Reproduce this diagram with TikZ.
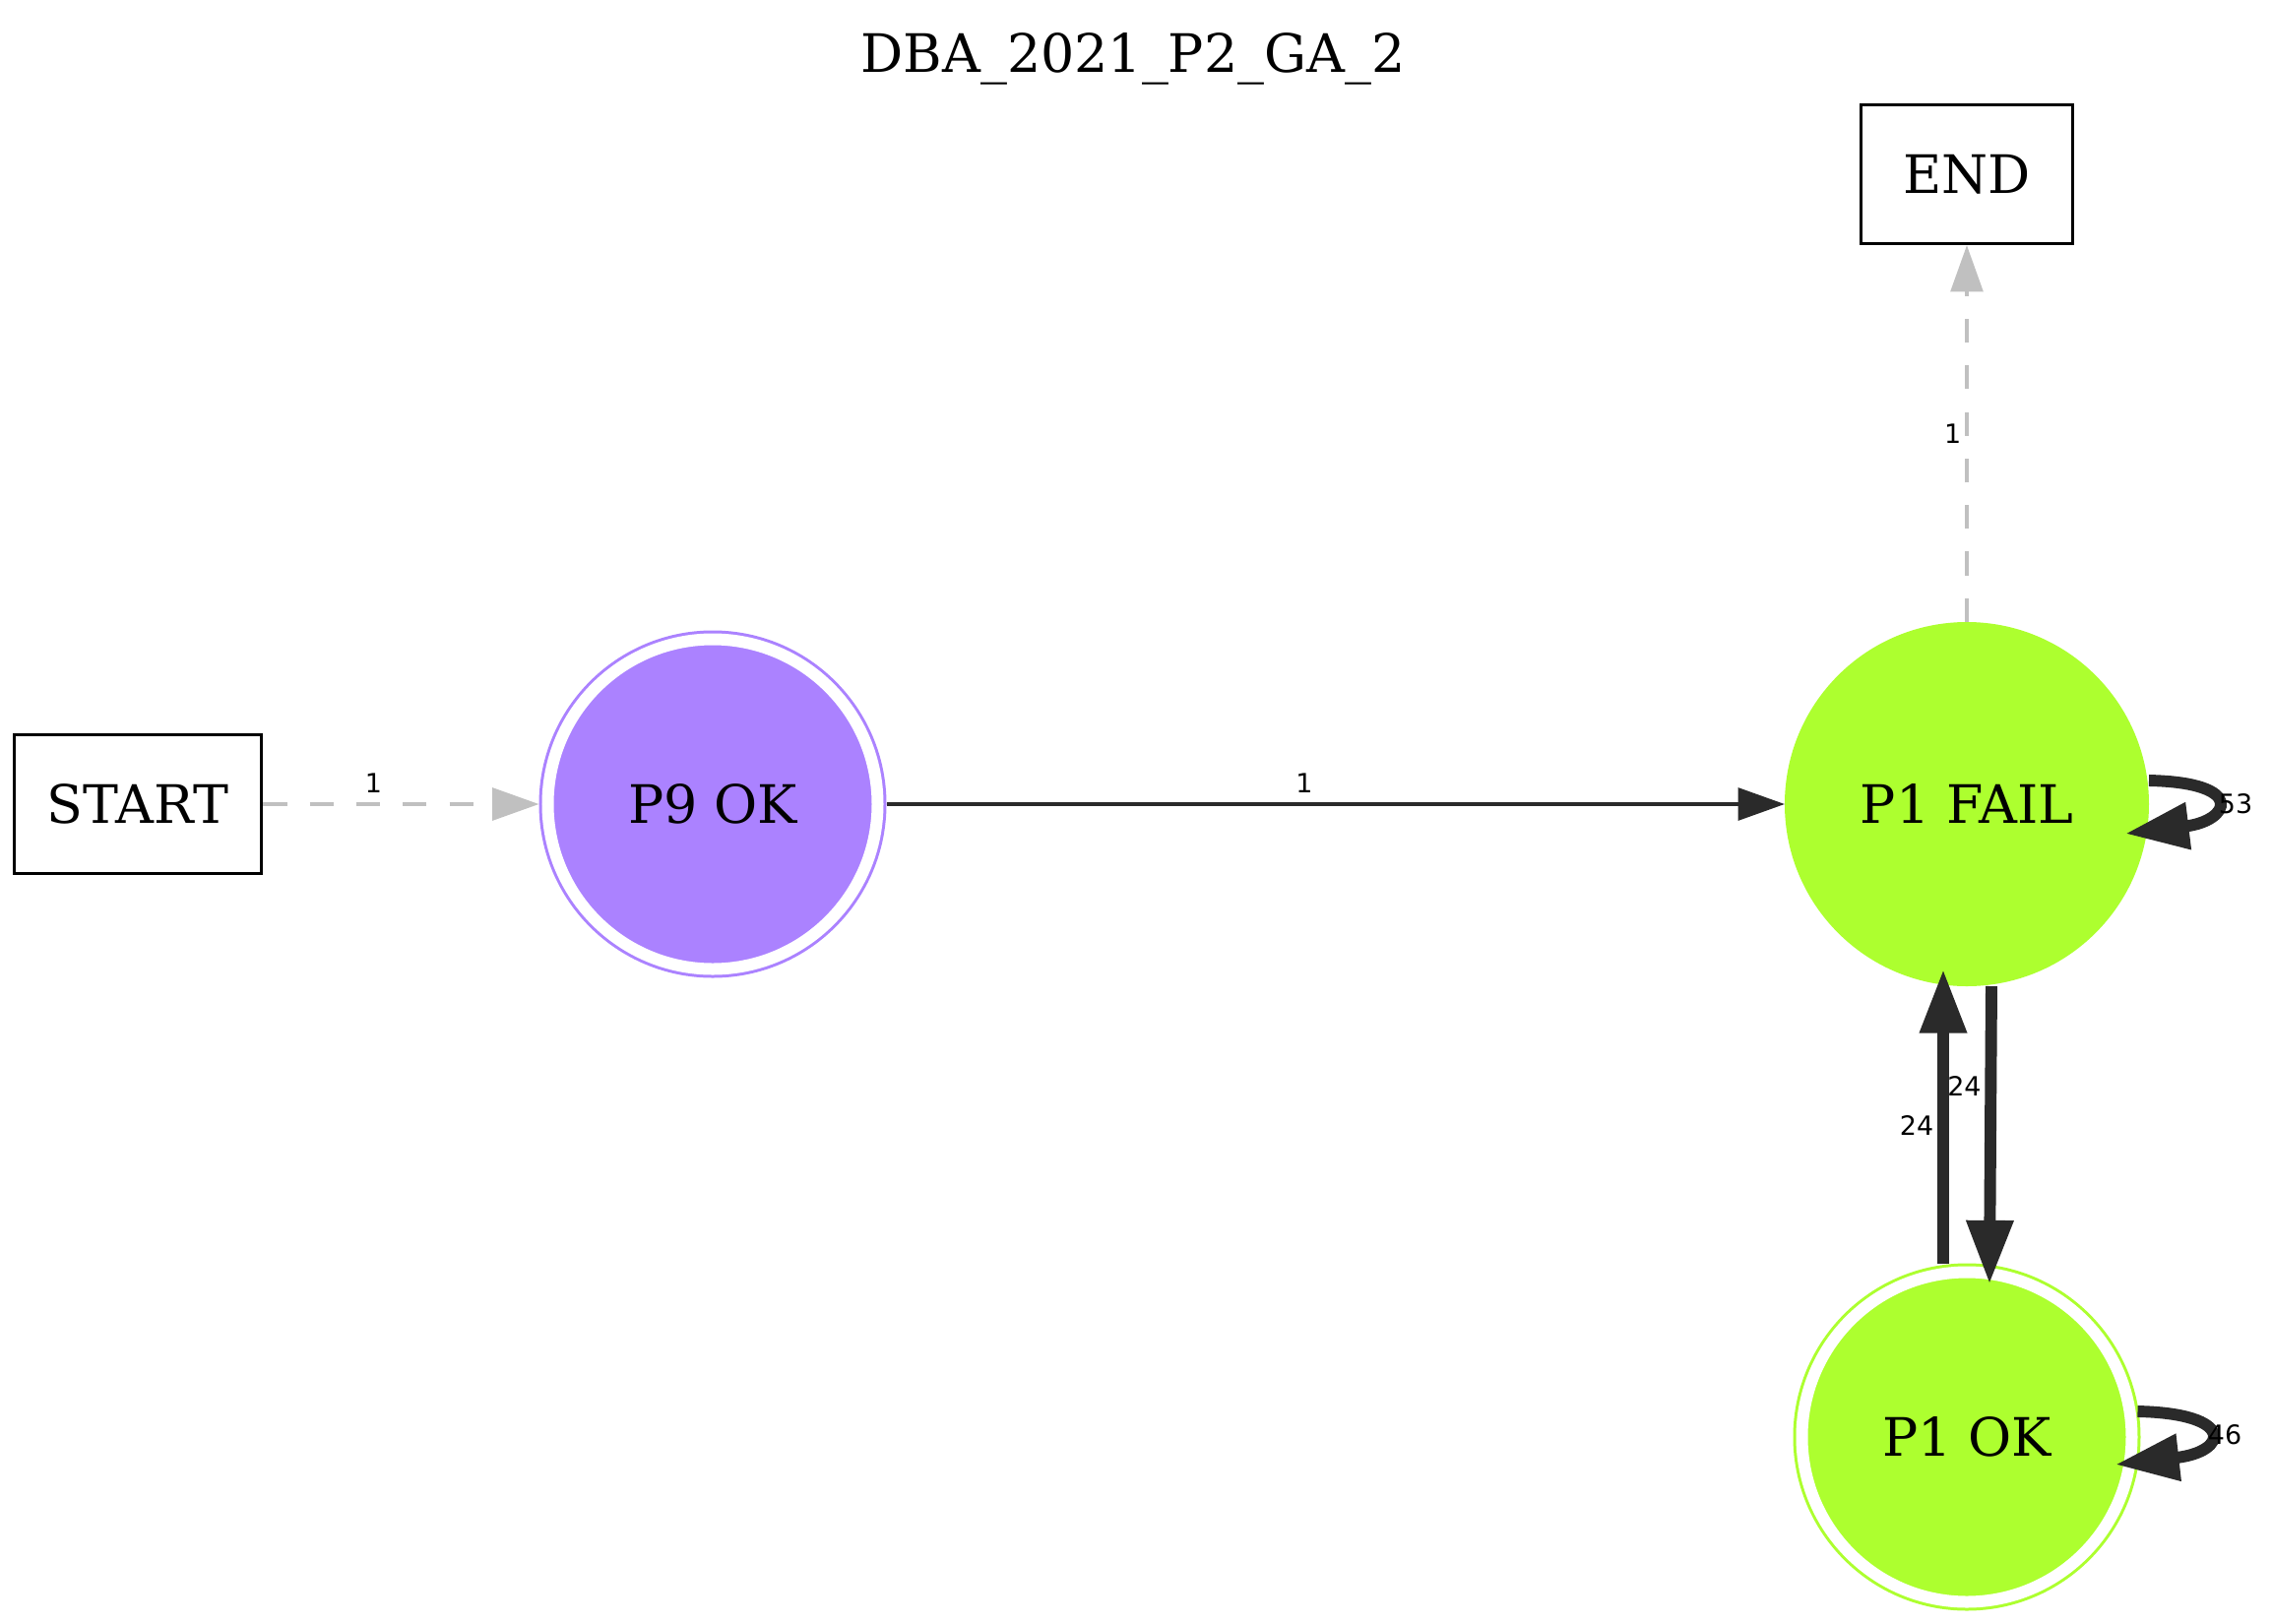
\documentclass[tikz,border=0pt]{standalone}
\usepackage{fontspec}
\setmainfont{DejaVu Serif}
\newfontfamily\edgefont{DejaVu Sans}
\usepackage{tikz}
\usetikzlibrary{arrows.meta}

\definecolor{okgreen}{HTML}{ADFF2F}
\definecolor{p9purple}{HTML}{AB82FF}
\definecolor{edgedark}{HTML}{2A2A2A}
\definecolor{edgeghost}{HTML}{C0C0C0}

\tikzset{
    statefont/.style={font=\fontsize{14}{16}\selectfont},
    failstate/.style={circle, fill=okgreen, minimum size=96.2pt, inner sep=0pt, outer sep=0pt, statefont},
    okstate/.style={circle, double=white, double distance=3.12pt, line width=0.78pt,
        minimum size=87.1pt, inner sep=0pt, outer sep=2.34pt, statefont},
    termbox/.style={draw, line width=0.9pt, minimum height=36.6pt, inner sep=0pt, statefont},
    edgelbl/.style={font=\edgefont\fontsize{7}{8}\selectfont, inner sep=1pt, text=black},
    thinedge/.style={edgedark, line width=1pt, -{Triangle[length=12.3pt, width=8.5pt]}},
    ghostedge/.style={edgeghost, line width=1pt, dash pattern=on 6.3pt off 6pt,
        -{Triangle[length=12.3pt, width=8.5pt]}},
    heavyedge/.style={edgedark, line width=3.1pt, -{Triangle[length=16.8pt, width=11.8pt]}}
}

\begin{document}
\begin{tikzpicture}[x=0.26pt, y=-0.26pt]
    \useasboundingbox (0,0) rectangle (2308,1650);
    % title
    \node[statefont] (title) at (1151,60) {DBA\_2021\_P2\_GA\_2};

    % states
    \node[termbox, minimum width=65.3pt] (start) at (140,817) {START};
    \node[termbox, minimum width=55.9pt] (end) at (1998,177) {END};
    \node[okstate, draw=p9purple, fill=p9purple] (p9ok) at (724,817) {P9 OK};
    \node[failstate] (p1fail) at (1998,817) {P1 FAIL};
    \node[okstate, draw=okgreen, fill=okgreen] (p1ok) at (1998,1460) {P1 OK};

    % transitions
    \draw[ghostedge] (start) -- (p9ok) node[edgelbl, pos=0.4, above=1.6pt] {1};
    \draw[thinedge] (p9ok) -- (p1fail) node[edgelbl, pos=0.465, above=1.6pt] {1};
    \draw[ghostedge] (p1fail) -- (end) node[edgelbl, midway, left] {1};
    \draw[heavyedge] ([shift={(-24,0)}]p1ok.north) -- ([shift={(-24,-17)}]p1fail.south)
        node[edgelbl, pos=0.468, left] {24};
    \draw[heavyedge] ([shift={(25,0)}]p1fail.south) -- ([shift={(23,21)}]p1ok.north)
        node[edgelbl, pos=0.337, left] {24};
    \draw[heavyedge] ([shift={(0,-24)}]p1fail.east) .. controls +(100,2) and +(106,-13) .. ([shift={(-24,30)}]p1fail.east)
        node[edgelbl] at ([shift={(88,0)}]p1fail.east) {53};
    \draw[heavyedge] ([shift={(-3,-26)}]p1ok.east) .. controls +(100,2) and +(115,-13) .. ([shift={(-25.5,28)}]p1ok.east)
        node[edgelbl] at ([shift={(85.5,-2)}]p1ok.east) {46};
\end{tikzpicture}
\end{document}
